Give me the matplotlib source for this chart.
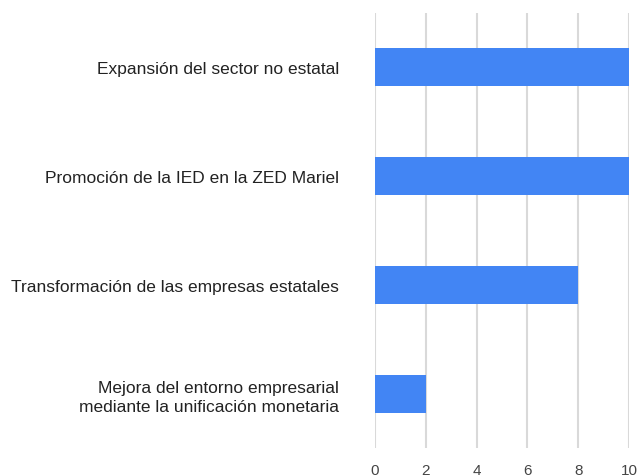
import matplotlib
matplotlib.use("Agg")
import matplotlib.pyplot as plt

plt.rcParams['font.family'] = ['Liberation Sans', 'DejaVu Sans']

categorias = [
    "Expansión del sector no estatal",
    "Promoción de la IED en la ZED Mariel",
    "Transformación de las empresas estatales",
    "Mejora del entorno empresarial\nmediante la unificación monetaria",
]
valores = [10, 10, 8, 2]
ticks_x = [0, 2, 4, 6, 8, 10]

fig = plt.figure(figsize=(6.37, 4.77), dpi=100)
ax = fig.add_axes([0.5887, 0.0587, 0.3987, 0.9128])

pos = list(range(len(categorias)))
ax.barh(pos, valores, height=0.35, color="#4285F4", zorder=3)

ax.set_ylim(len(categorias) - 0.5, -0.5)
ax.set_xlim(0, 10)
ax.set_xticks(ticks_x)
ax.set_xticklabels([str(t) for t in ticks_x])
ax.set_yticks(pos)
ax.set_yticklabels(categorias, fontsize=12.5, color="#222222", linespacing=1.3)

ax.grid(axis="x", color="#d9d9d9", linewidth=1.5, zorder=0)
for s in ax.spines.values():
    s.set_visible(False)
ax.tick_params(axis="y", length=0, pad=26)
ax.tick_params(axis="x", length=0, pad=11, labelsize=11, labelcolor="#444444")

fig.savefig("out.png", dpi=100)
